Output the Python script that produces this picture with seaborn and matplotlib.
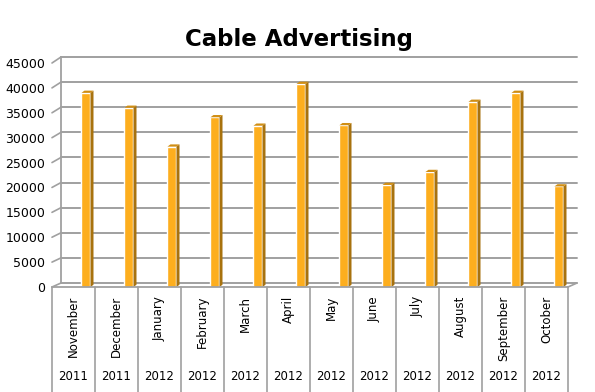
import matplotlib
matplotlib.use("Agg")
import matplotlib.pyplot as plt
import seaborn as sns
from matplotlib.lines import Line2D
from matplotlib.patches import Polygon

months = ["November", "December", "January", "February", "March", "April",
          "May", "June", "July", "August", "September", "October"]
years = ["2011", "2011", "2012", "2012", "2012", "2012",
         "2012", "2012", "2012", "2012", "2012", "2012"]
spend = [39000, 36000, 28200, 34100, 32400, 40800,
         32500, 20500, 23100, 37200, 39000, 20200]
yticks = list(range(0, 45001, 5000))

W, H = 595, 392
fig = plt.figure(figsize=(W / 100, H / 100), dpi=100)
sns.set_style("white")
plt.rcParams["font.family"] = ["DejaVu Sans"]
plt.rcParams["text.color"] = "black"

def box(l, r, top, bot):
    return [l / W, 1 - bot / H, (r - l) / W, (bot - top) / H]

grid_c = "#A0A0A0"

# back wall (gridlines), shifted up/right for the 3D look
back = fig.add_axes(box(61, 577, 57, 283))
back.set_xlim(-0.5, 11.5)
back.set_ylim(0, 45000)
back.set_yticks(yticks)
back.set_xticks([])
back.tick_params(left=False, labelleft=False)
for v in yticks:
    back.axhline(v, color=grid_c, lw=1.4, clip_on=False)
for s in ["top", "right", "bottom"]:
    back.spines[s].set_visible(False)
back.spines["left"].set_color(grid_c)
back.spines["left"].set_linewidth(1.3)

# front axes with bars and labels
ax = fig.add_axes(box(52, 568, 63, 287))
ax.patch.set_alpha(0)
sns.barplot(x=months, y=spend, color="#FDAE1E", saturation=1, width=0.21,
            ax=ax, zorder=3)
ax.set_xlim(-0.5, 11.5)
ax.set_ylim(0, 45000)
ax.set_yticks(yticks)
ax.set_yticklabels([str(v) for v in yticks], fontsize=9, color="black")
ax.set_xticks([])
ax.set_xlabel("")
ax.set_ylabel("")
ax.tick_params(axis="y", length=2, color=grid_c, pad=3)
for s in ax.spines.values():
    s.set_visible(False)

dx, dy = 0.07, 450
for p in ax.patches:
    p.set_x(p.get_x() + 0.29)
    x0, w, h = p.get_x(), p.get_width(), p.get_height()
    side = Polygon([(x0 + w, 0), (x0 + w + dx, dy), (x0 + w + dx, h + dy), (x0 + w, h)],
                   closed=True, fc="#A8720E", ec="none", zorder=3)
    top = Polygon([(x0, h), (x0 + dx, h + dy), (x0 + w + dx, h + dy), (x0 + w, h)],
                  closed=True, fc="#D08E14", ec="none", zorder=3)
    ax.add_patch(side)
    ax.add_patch(top)

# side wall diagonals and floor
def disp(a, pt):
    return a.transData.transform(pt)

for v in yticks:
    p1, p2 = disp(ax, (-0.5, v)), disp(back, (-0.5, v))
    fig.add_artist(Line2D([p1[0], p2[0]], [p1[1], p2[1]], transform=None,
                          color=grid_c, lw=1.2))
p1, p2 = disp(ax, (11.5, 0)), disp(back, (11.5, 0))
fig.add_artist(Line2D([p1[0], p2[0]], [p1[1], p2[1]], transform=None,
                      color=grid_c, lw=1.2))
ax.plot([-0.5, 11.5], [0, 0], color=grid_c, lw=1.3, clip_on=False, zorder=4)

# category table below the floor
tr = ax.get_xaxis_transform()
for i in range(13):
    ax.plot([i - 0.5, i - 0.5], [0, -0.47], transform=tr, color=grid_c,
            lw=1.2, clip_on=False)
for i, (m, y) in enumerate(zip(months, years)):
    ax.text(i, -0.04, m, transform=tr, rotation=90, ha="center", va="top",
            fontsize=8.5, color="black")
    ax.text(i, -0.40, y, transform=tr, ha="center", va="center", fontsize=8.5,
            color="black")

fig.text(0.503, 0.898, "Cable Advertising", ha="center", va="center",
         fontsize=16.5, fontweight="bold", color="black")

fig.savefig("out.png", dpi=100)
